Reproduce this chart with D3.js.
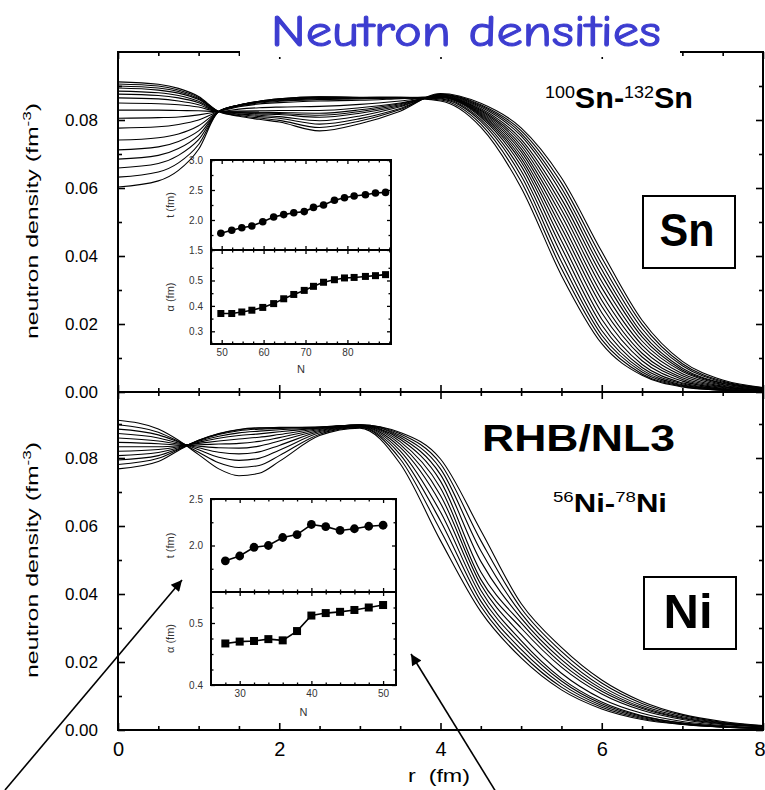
<!DOCTYPE html>
<html>
<head>
<meta charset="utf-8">
<title>Neutron densities</title>
<script src="https://cdn.jsdelivr.net/npm/d3@7/dist/d3.min.js"></script>
<style>
  html, body { margin: 0; padding: 0; background: #fff; }
  svg { display: block; }
</style>
</head>
<body>
<svg id="chart" width="765" height="790" viewBox="0 0 765 790"></svg>
<script>
// ---------------------------------------------------------------
// Radial grid (fm) on which every density profile is tabulated
// ---------------------------------------------------------------
const radii = [0, 0.5, 0.75, 1, 1.25, 1.5, 1.75, 2, 2.5, 3, 3.5, 4, 4.5, 5, 5.5, 6, 6.5, 7, 7.5, 8];

// Neutron densities (fm^-3) of the Sn chain, RHB/NL3
const sn100 = [.0603,.0621,.0652,.0714,.0825,.0844,.0855,.0862,.0868,.0866,.0865,.0856,.0779,.0601,.0343,.0142,.0049,.0015,.0005,.0001];
const sn102 = [.0632,.0647,.0674,.0728,.0825,.0844,.0855,.0862,.0868,.0867,.0866,.0859,.0788,.0619,.0363,.0154,.0053,.0017,.0005,.0002];
const sn104 = [.0659,.0672,.0696,.0742,.0825,.0844,.0854,.0861,.0867,.0866,.0867,.0862,.0796,.0636,.0383,.0167,.0059,.0019,.0006,.0002];
const sn106 = [.0685,.0696,.0716,.0755,.0825,.0843,.0854,.0860,.0866,.0865,.0866,.0864,.0802,.0651,.0404,.0181,.0065,.0021,.0007,.0002];
const sn108 = [.0712,.0721,.0737,.0768,.0825,.0843,.0853,.0859,.0865,.0866,.0867,.0866,.0808,.0665,.0425,.0197,.0072,.0024,.0008,.0002];
const sn110 = [.0741,.0748,.0759,.0783,.0825,.0842,.0852,.0857,.0863,.0864,.0866,.0867,.0812,.0677,.0445,.0214,.0081,.0027,.0009,.0003];
const sn112 = [.0776,.0780,.0787,.0800,.0825,.0841,.0850,.0855,.0860,.0862,.0865,.0867,.0815,.0687,.0465,.0233,.0092,.0032,.0011,.0004];
const sn114 = [.0805,.0807,.0809,.0815,.0825,.0839,.0847,.0851,.0856,.0858,.0863,.0868,.0818,.0697,.0483,.0252,.0103,.0037,.0013,.0004];
const sn116 = [.0829,.0829,.0828,.0827,.0825,.0832,.0836,.0838,.0840,.0846,.0856,.0869,.0821,.0707,.0501,.0270,.0114,.0042,.0015,.0005];
const sn118 = [.0850,.0848,.0845,.0838,.0825,.0826,.0827,.0828,.0828,.0836,.0850,.0869,.0824,.0716,.0519,.0288,.0126,.0048,.0017,.0006];
const sn120 = [.0865,.0862,.0856,.0845,.0825,.0824,.0823,.0822,.0820,.0830,.0848,.0870,.0827,.0725,.0536,.0307,.0138,.0054,.0020,.0007];
const sn122 = [.0876,.0872,.0865,.0851,.0825,.0822,.0821,.0819,.0814,.0825,.0845,.0871,.0830,.0734,.0552,.0325,.0150,.0060,.0022,.0008];
const sn124 = [.0885,.0880,.0872,.0855,.0825,.0821,.0818,.0816,.0808,.0820,.0842,.0872,.0834,.0743,.0568,.0343,.0162,.0065,.0025,.0009];
const sn126 = [.0894,.0888,.0879,.0860,.0825,.0818,.0814,.0810,.0798,.0812,.0839,.0874,.0838,.0753,.0585,.0360,.0173,.0070,.0026,.0010];
const sn128 = [.0900,.0894,.0884,.0863,.0825,.0816,.0810,.0805,.0788,.0804,.0834,.0875,.0842,.0761,.0600,.0377,.0186,.0077,.0029,.0011];
const sn130 = [.0906,.0900,.0888,.0866,.0825,.0813,.0806,.0799,.0778,.0797,.0831,.0876,.0845,.0769,.0615,.0395,.0199,.0083,.0032,.0012];
const sn132 = [.0912,.0905,.0893,.0869,.0825,.0811,.0802,.0794,.0768,.0789,.0826,.0878,.0849,.0777,.0630,.0413,.0211,.0090,.0035,.0013];

// Neutron densities (fm^-3) of the Ni chain, RHB/NL3
const ni56 = [.0911,.0885,.0852,.0810,.0768,.0748,.0755,.0790,.0866,.0888,.0783,.0557,.0348,.0212,.0118,.0062,.0031,.0016,.0008,.0004];
const ni58 = [.0898,.0876,.0849,.0817,.0786,.0772,.0778,.0807,.0870,.0890,.0797,.0587,.0364,.0225,.0126,.0067,.0034,.0017,.0009,.0004];
const ni60 = [.0885,.0868,.0847,.0824,.0802,.0793,.0799,.0823,.0874,.0891,.0810,.0615,.0379,.0237,.0135,.0072,.0037,.0018,.0009,.0005];
const ni62 = [.0872,.0859,.0844,.0830,.0817,.0812,.0818,.0837,.0878,.0892,.0821,.0641,.0395,.0251,.0144,.0077,.0040,.0020,.0010,.0005];
const ni64 = [.0859,.0850,.0841,.0835,.0830,.0829,.0835,.0850,.0881,.0893,.0831,.0667,.0411,.0263,.0152,.0082,.0042,.0021,.0011,.0005];
const ni66 = [.0846,.0842,.0838,.0839,.0841,.0843,.0849,.0860,.0884,.0894,.0840,.0690,.0428,.0281,.0167,.0092,.0049,.0025,.0013,.0006];
const ni68 = [.0833,.0833,.0836,.0843,.0850,.0856,.0861,.0869,.0886,.0895,.0848,.0712,.0443,.0300,.0185,.0106,.0058,.0031,.0016,.0009];
const ni70 = [.0820,.0825,.0833,.0846,.0858,.0866,.0871,.0877,.0888,.0896,.0855,.0732,.0465,.0315,.0196,.0114,.0063,.0034,.0018,.0009];
const ni72 = [.0807,.0816,.0830,.0849,.0864,.0874,.0879,.0883,.0889,.0897,.0861,.0751,.0496,.0329,.0207,.0121,.0067,.0036,.0019,.0010];
const ni74 = [.0794,.0807,.0827,.0851,.0869,.0880,.0885,.0887,.0890,.0897,.0866,.0768,.0527,.0343,.0219,.0129,.0072,.0039,.0021,.0011];
const ni76 = [.0781,.0799,.0825,.0852,.0871,.0883,.0888,.0889,.0891,.0898,.0871,.0783,.0557,.0358,.0231,.0138,.0078,.0043,.0023,.0012];
const ni78 = [.0768,.0790,.0822,.0852,.0872,.0884,.0889,.0890,.0891,.0898,.0875,.0797,.0587,.0372,.0243,.0147,.0084,.0046,.0025,.0013];

const snProfiles = [sn100, sn102, sn104, sn106, sn108, sn110, sn112, sn114, sn116, sn118, sn120, sn122, sn124, sn126, sn128, sn130, sn132];
const niProfiles = [ni56, ni58, ni60, ni62, ni64, ni66, ni68, ni70, ni72, ni74, ni76, ni78];

// Surface thickness t (fm) and diffuseness alpha (fm) versus neutron number N
// (N positions as they sit on the Sn inset's own N axis)
const snN     = [49.8, 52.4, 54.8, 57.2, 59.8, 62.4, 64.8, 67.2, 69.7, 71.9, 74.3, 76.9, 79.3, 81.6, 84.3, 86.7, 89.1];
const snT     = [1.78, 1.83, 1.87, 1.90, 1.97, 2.05, 2.09, 2.12, 2.14, 2.21, 2.25, 2.33, 2.37, 2.40, 2.42, 2.45, 2.46];
const snAlpha = [0.370, 0.370, 0.376, 0.383, 0.394, 0.409, 0.428, 0.445, 0.461, 0.477, 0.493, 0.503, 0.510, 0.512, 0.516, 0.519, 0.523];

const niN     = [28, 30, 32, 34, 36, 38, 40, 42, 44, 46, 48, 50];
const niT     = [1.835, 1.887, 1.981, 2.000, 2.086, 2.117, 2.226, 2.203, 2.162, 2.180, 2.207, 2.218];
const niAlpha = [0.467, 0.470, 0.471, 0.474, 0.472, 0.487, 0.512, 0.516, 0.518, 0.521, 0.525, 0.529];

// Tick values
const densityTicks = [0, 0.02, 0.04, 0.06, 0.08];
const densityMinor = [0.01, 0.03, 0.05, 0.07, 0.09];
const radiusTicks  = [0, 2, 4, 6, 8];
const radiusMinor  = [0.5, 1, 1.5, 2.5, 3, 3.5, 4.5, 5, 5.5, 6.5, 7, 7.5];
const snNTicks  = [50, 60, 70, 80];
const snNMinor  = [47.5, 52.5, 55, 57.5, 62.5, 65, 67.5, 72.5, 75, 77.5, 82.5, 85, 87.5, 90];
const niNTicks  = [30, 40, 50];
const niNMinor  = [28, 32, 34, 36, 38, 42, 44, 46, 48];

// ---------------------------------------------------------------
const FONT = "'Liberation Sans', Arial, Helvetica, sans-serif";
const svg = d3.select("#chart");

const L = 118, R = 763, T = 52, MID = 392, B = 730;
const x    = d3.scaleLinear().domain([0, 8]).range([L, R]);
const yTop = d3.scaleLinear().domain([0, 0.1]).range([MID, T]);
const yBot = d3.scaleLinear().domain([0, 0.1]).range([B, MID - 2]);

const defs = svg.append("defs");
defs.append("clipPath").attr("id", "clipTop").append("rect")
  .attr("x", L).attr("y", T).attr("width", R - L).attr("height", MID - T);
defs.append("clipPath").attr("id", "clipBot").append("rect")
  .attr("x", L).attr("y", MID).attr("width", R - L).attr("height", B - MID);
defs.append("marker").attr("id", "arrowHead")
  .attr("viewBox", "0 0 10 10").attr("refX", 10).attr("refY", 5)
  .attr("markerWidth", 15).attr("markerHeight", 11)
  .attr("markerUnits", "userSpaceOnUse").attr("orient", "auto")
  .append("path").attr("d", "M0,0 L10,5 L0,10 Z").attr("fill", "#000");

// density profiles
function drawProfiles(profiles, y, clip) {
  const line = d3.line()
    .x((d, i) => x(radii[i]))
    .y(d => y(d))
    .curve(d3.curveMonotoneX);
  svg.append("g").attr("clip-path", `url(#${clip})`)
    .selectAll("path").data(profiles).join("path")
    .attr("d", line)
    .attr("fill", "none")
    .attr("stroke", "#000")
    .attr("stroke-width", 1.1);
}
drawProfiles(snProfiles, yTop, "clipTop");
drawProfiles(niProfiles, yBot, "clipBot");

// inward ticks for the main frame
function frameTicks(axis, transform, labelled) {
  const g = svg.append("g").attr("transform", transform).call(axis);
  g.select(".domain").remove();
  g.selectAll(".tick line").attr("stroke", "#000").attr("stroke-width", 1.6);
  g.selectAll("text").attr("font-family", FONT).attr("fill", "#000");
  if (!labelled) g.selectAll("text").remove();
  return g;
}
const none = () => "";

// top panel
frameTicks(d3.axisLeft(yTop).tickValues(densityTicks).tickSize(-7).tickPadding(20).tickFormat(d3.format(".2f")), `translate(${L},0)`, true)
  .selectAll("text").attr("font-size", 17);
frameTicks(d3.axisLeft(yTop).tickValues(densityMinor).tickSize(-4).tickFormat(none), `translate(${L},0)`, false);
frameTicks(d3.axisRight(yTop).tickValues(densityTicks).tickSize(-7).tickFormat(none), `translate(${R},0)`, false);
frameTicks(d3.axisRight(yTop).tickValues(densityMinor).tickSize(-4).tickFormat(none), `translate(${R},0)`, false);
frameTicks(d3.axisTop(x).tickValues(radiusTicks).tickSize(-7).tickFormat(none), `translate(0,${T})`, false);
frameTicks(d3.axisTop(x).tickValues(radiusMinor).tickSize(-4).tickFormat(none), `translate(0,${T})`, false);
frameTicks(d3.axisBottom(x).tickValues(radiusTicks).tickSize(-7).tickFormat(none), `translate(0,${MID})`, false);
frameTicks(d3.axisBottom(x).tickValues(radiusMinor).tickSize(-4).tickFormat(none), `translate(0,${MID})`, false);

// bottom panel
frameTicks(d3.axisLeft(yBot).tickValues(densityTicks).tickSize(-7).tickPadding(20).tickFormat(d3.format(".2f")), `translate(${L},0)`, true)
  .selectAll("text").attr("font-size", 17);
frameTicks(d3.axisLeft(yBot).tickValues(densityMinor).tickSize(-4).tickFormat(none), `translate(${L},0)`, false);
frameTicks(d3.axisRight(yBot).tickValues(densityTicks).tickSize(-7).tickFormat(none), `translate(${R},0)`, false);
frameTicks(d3.axisRight(yBot).tickValues(densityMinor).tickSize(-4).tickFormat(none), `translate(${R},0)`, false);
frameTicks(d3.axisTop(x).tickValues(radiusTicks).tickSize(-7).tickFormat(none), `translate(0,${MID})`, false);
frameTicks(d3.axisTop(x).tickValues(radiusMinor).tickSize(-4).tickFormat(none), `translate(0,${MID})`, false);
const xLabels = frameTicks(d3.axisBottom(x).tickValues(radiusTicks).tickSize(-7).tickPadding(12).tickFormat(d3.format("d")), `translate(0,${B})`, true);
xLabels.selectAll("text").attr("font-size", 20);
// keep the last label inside the page
xLabels.selectAll(".tick").filter(d => d === 8).select("text").attr("text-anchor", "end").attr("dx", 2);
frameTicks(d3.axisBottom(x).tickValues(radiusMinor).tickSize(-4).tickFormat(none), `translate(0,${B})`, false);

// frame and panel divider
svg.append("rect").attr("x", L).attr("y", T).attr("width", R - L).attr("height", B - T)
  .attr("fill", "none").attr("stroke", "#000").attr("stroke-width", 2);
svg.append("line").attr("x1", L).attr("x2", R).attr("y1", MID).attr("y2", MID)
  .attr("stroke", "#000").attr("stroke-width", 2);

// axis titles
function densityTitle(cy) {
  const t = svg.append("text")
    .attr("transform", `translate(38,${cy}) rotate(-90)`)
    .attr("text-anchor", "middle")
    .attr("font-family", FONT).attr("font-size", 16)
    .attr("textLength", 236).attr("lengthAdjust", "spacingAndGlyphs");
  t.append("tspan").text("neutron density (fm");
  t.append("tspan").attr("font-size", 11).attr("dy", -7).text("-3");
  t.append("tspan").attr("dy", 7).text(")");
}
densityTitle(221);
densityTitle(560);

svg.append("text").attr("x", 439).attr("y", 782)
  .attr("text-anchor", "middle").attr("font-family", FONT).attr("font-size", 19)
  .attr("textLength", 62).attr("lengthAdjust", "spacingAndGlyphs")
  .style("white-space", "pre").text("r  (fm)");

// ---------------------------------------------------------------
// insets: t (circles) and alpha (squares) vs N
// ---------------------------------------------------------------
function inset(o) {
  const g = svg.append("g");
  const { x0, x1, y0, ym, y1 } = o.box;
  g.append("rect").attr("x", x0).attr("y", y0).attr("width", x1 - x0).attr("height", y1 - y0)
    .attr("fill", "#fff");

  const add = (axis, transform) => {
    const t = g.append("g").attr("transform", transform).call(axis);
    t.select(".domain").remove();
    t.selectAll(".tick line").attr("stroke", "#000").attr("stroke-width", 1.3);
    t.selectAll("text").attr("font-family", FONT).attr("font-size", 10).attr("fill", "#333");
    return t;
  };

  // N ticks on every horizontal edge
  [[o.xMajor, 4], [o.xMinor, 2.5]].forEach(([vals, s], k) => {
    add(d3.axisBottom(o.xs).tickValues(vals).tickSize(-s).tickPadding(5)
      .tickFormat(k === 0 ? d3.format("d") : none), `translate(0,${y1})`);
    add(d3.axisTop(o.xs).tickValues(vals).tickSize(-s).tickFormat(none), `translate(0,${y0})`);
    add(d3.axisBottom(o.xs).tickValues(vals).tickSize(-s).tickFormat(none), `translate(0,${ym})`);
    add(d3.axisTop(o.xs).tickValues(vals).tickSize(-s).tickFormat(none), `translate(0,${ym})`);
  });
  // t and alpha ticks on both vertical edges
  [[o.ts, o.tMajor, o.tMinor, o.tLabels], [o.as, o.aMajor, o.aMinor, o.aLabels]].forEach(([sc, maj, min, lab]) => {
    add(d3.axisLeft(sc).tickValues(maj).tickSize(-4).tickPadding(8)
      .tickFormat(d => lab.includes(d) ? d3.format(".1f")(d) : ""), `translate(${x0},0)`);
    add(d3.axisLeft(sc).tickValues(min).tickSize(-2.5).tickFormat(none), `translate(${x0},0)`);
    add(d3.axisRight(sc).tickValues(maj).tickSize(-4).tickFormat(none), `translate(${x1},0)`);
    add(d3.axisRight(sc).tickValues(min).tickSize(-2.5).tickFormat(none), `translate(${x1},0)`);
  });

  g.append("rect").attr("x", x0).attr("y", y0).attr("width", x1 - x0).attr("height", y1 - y0)
    .attr("fill", "none").attr("stroke", "#000").attr("stroke-width", 2);
  g.append("line").attr("x1", x0).attr("x2", x1).attr("y1", ym).attr("y2", ym)
    .attr("stroke", "#000").attr("stroke-width", 2);

  const tPts = o.nVals.map((n, i) => [n, o.tVals[i]]);
  const aPts = o.nVals.map((n, i) => [n, o.aVals[i]]);
  g.append("path").datum(tPts)
    .attr("d", d3.line().x(d => o.xs(d[0])).y(d => o.ts(d[1])))
    .attr("fill", "none").attr("stroke", "#000").attr("stroke-width", 1.6);
  g.append("path").datum(aPts)
    .attr("d", d3.line().x(d => o.xs(d[0])).y(d => o.as(d[1])))
    .attr("fill", "none").attr("stroke", "#000").attr("stroke-width", 1.6);
  g.selectAll("circle.pt").data(tPts).join("circle").attr("class", "pt")
    .attr("cx", d => o.xs(d[0])).attr("cy", d => o.ts(d[1])).attr("r", o.r).attr("fill", "#000");
  g.selectAll("rect.pt").data(aPts).join("rect").attr("class", "pt")
    .attr("x", d => o.xs(d[0]) - o.sq / 2).attr("y", d => o.as(d[1]) - o.sq / 2)
    .attr("width", o.sq).attr("height", o.sq).attr("fill", "#000");

  // inset axis titles
  const lab = (txt, tx, ty, rot) => g.append("text")
    .attr("transform", `translate(${tx},${ty})` + (rot ? " rotate(-90)" : ""))
    .attr("text-anchor", "middle").attr("font-family", FONT).attr("font-size", 11)
    .attr("fill", "#333").text(txt);
  lab("t (fm)", 174, (y0 + ym) / 2, true);
  lab("\u03b1 (fm)", 174, (ym + y1) / 2, true);
  lab("N", (x0 + x1) / 2, o.nLabelY, false);
}

inset({
  box: { x0: 211, x1: 391, y0: 160, ym: 250, y1: 344 },
  xs: d3.scaleLinear().domain([47.45, 90.4]).range([211, 391]),
  ts: d3.scaleLinear().domain([1.5, 3.0]).range([250, 160]),
  as: d3.scaleLinear().domain([0.25, 0.62]).range([344, 250]),
  nVals: snN, tVals: snT, aVals: snAlpha,
  xMajor: snNTicks, xMinor: snNMinor,
  tMajor: [1.5, 2.0, 2.5, 3.0], tMinor: [1.75, 2.25, 2.75], tLabels: [1.5, 2.0, 2.5, 3.0],
  aMajor: [0.3, 0.4, 0.5], aMinor: [0.35, 0.45, 0.55], aLabels: [0.3, 0.4, 0.5],
  r: 3.8, sq: 7, nLabelY: 373
});

inset({
  box: { x0: 211, x1: 396, y0: 499, ym: 592, y1: 685 },
  xs: d3.scaleLinear().domain([26, 51.8]).range([211, 396]),
  ts: d3.scaleLinear().domain([1.5, 2.5]).range([592, 499]),
  as: d3.scaleLinear().domain([0.4, 0.55]).range([685, 592]),
  nVals: niN, tVals: niT, aVals: niAlpha,
  xMajor: niNTicks, xMinor: niNMinor,
  tMajor: [2.0, 2.5], tMinor: [1.75, 2.25], tLabels: [2.0, 2.5],
  aMajor: [0.4, 0.5], aMinor: [0.425, 0.45, 0.475, 0.525], aLabels: [0.4, 0.5],
  r: 4.4, sq: 8, nLabelY: 716
});

// ---------------------------------------------------------------
// annotations
// ---------------------------------------------------------------
function isotopeRange(xs, ys, a, nameA, b, nameB, supSize, size, len) {
  const t = svg.append("text").attr("x", xs).attr("y", ys)
    .attr("font-family", FONT).attr("font-weight", "bold")
    .attr("textLength", len).attr("lengthAdjust", "spacingAndGlyphs");
  t.append("tspan").attr("font-size", supSize).attr("font-weight", "normal").attr("dy", -10).text(a);
  t.append("tspan").attr("font-size", size).attr("dy", 10).text(nameA + "-");
  t.append("tspan").attr("font-size", supSize).attr("font-weight", "normal").attr("dy", -10).text(b);
  t.append("tspan").attr("font-size", size).attr("dy", 10).text(nameB);
}
isotopeRange(545, 108, "100", "Sn", "132", "Sn", 17, 29, 148);
isotopeRange(553, 512, "56", "Ni", "78", "Ni", 15, 25, 114);

svg.append("text").attr("x", 482).attr("y", 451)
  .attr("font-family", FONT).attr("font-weight", "bold").attr("font-size", 37)
  .attr("textLength", 193).attr("lengthAdjust", "spacingAndGlyphs").text("RHB/NL3");

function boxedLabel(bx, by, bw, bh, txt, size, len, base) {
  svg.append("rect").attr("x", bx).attr("y", by).attr("width", bw).attr("height", bh)
    .attr("fill", "#fff").attr("stroke", "#000").attr("stroke-width", 2);
  svg.append("text").attr("x", bx + bw / 2 - 2).attr("y", base)
    .attr("text-anchor", "middle").attr("font-family", FONT).attr("font-weight", "bold")
    .attr("font-size", size).attr("textLength", len).attr("lengthAdjust", "spacingAndGlyphs").text(txt);
}
boxedLabel(643, 196, 92, 72, "Sn", 47, 55, 246);
boxedLabel(644, 577, 92, 72, "Ni", 48, 49, 628);

// arrows pointing at the Ni inset and at the Ni surface region
svg.append("line").attr("x1", 5).attr("y1", 790).attr("x2", 182).attr("y2", 580)
  .attr("stroke", "#000").attr("stroke-width", 1.6).attr("marker-end", "url(#arrowHead)");
svg.append("line").attr("x1", 496).attr("y1", 792).attr("x2", 411).attr("y2", 654)
  .attr("stroke", "#000").attr("stroke-width", 1.6).attr("marker-end", "url(#arrowHead)");

// title on a white band that interrupts the frame
svg.append("rect").attr("x", 240).attr("y", 0).attr("width", 440).attr("height", 57).attr("fill", "#fff");
svg.append("text").attr("x", 271).attr("y", 46)
  .attr("font-family", "'Comic Sans MS', 'Comic Neue', 'DejaVu Sans', sans-serif")
  .attr("font-size", 44).attr("fill", "#3d3dd0")
  .attr("stroke", "#3d3dd0").attr("stroke-width", 1.1)
  .attr("textLength", 390).attr("lengthAdjust", "spacingAndGlyphs")
  .text("Neutron densities");
</script>
</body>
</html>
